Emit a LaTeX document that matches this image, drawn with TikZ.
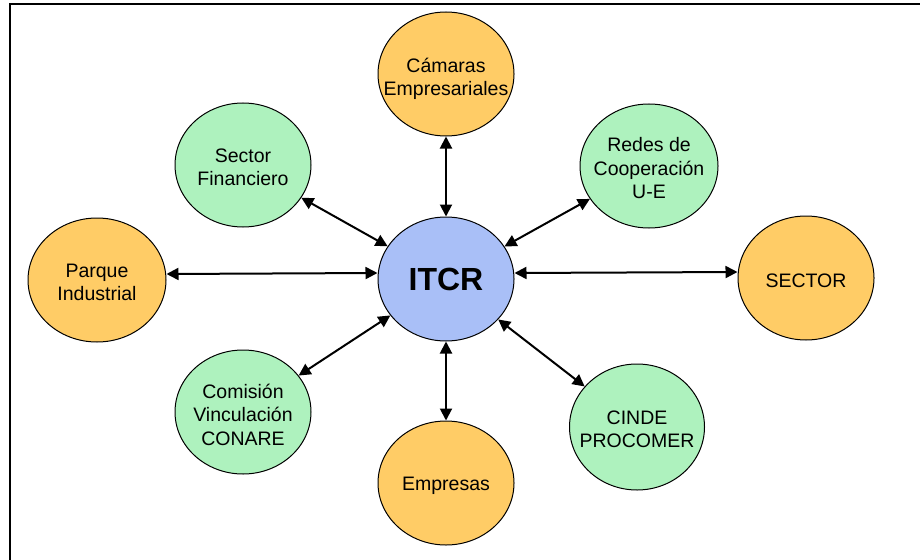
\documentclass[tikz,border=0pt]{standalone}
\usepackage{fontspec}
\setmainfont{Liberation Sans}
\usetikzlibrary{shapes.geometric,arrows.meta}
\definecolor{orangefill}{RGB}{255,204,102}
\definecolor{greenfill}{RGB}{174,242,190}
\definecolor{bluefill}{RGB}{169,191,247}
\tikzset{
  bubble/.style={ellipse, draw=black, line width=1pt, minimum width=136pt, minimum height=124pt,
    inner sep=0pt},
  bubbletext/.style={align=center, font=\fontsize{19.5}{23.5}\selectfont, yshift=-2.5pt},
  orangebubble/.style={bubble, fill=orangefill},
  greenbubble/.style={bubble, fill=greenfill},
  link/.style={line width=2pt, {Triangle[length=12pt,width=12pt]}-{Triangle[length=12pt,width=12pt]}}
}
\begin{document}
\begin{tikzpicture}[x=1pt,y=-1pt]
\useasboundingbox (0,0) rectangle (920,559);
\fill[white] (0,0) rectangle (920,559);
\begin{scope}
\clip (0,0) rectangle (920,559);
\draw[line width=2pt] (10,580) -- (10,4) -- (940,4);
\end{scope}
\node[orangebubble] (cam) at (446,74) {};
\node[bubbletext, yshift=-2.5pt] (camt) at (cam.center) {Cámaras\\Empresariales};
\node[greenbubble] (sf) at (243,165) {};
\node[bubbletext] (sft) at (sf.center) {Sector\\Financiero};
\node[greenbubble, minimum width=138pt] (redes) at (649,166) {};
\node[bubbletext] (redest) at (redes.center) {Redes de\\Cooperación\\U-E};
\node[orangebubble, minimum width=138pt] (parque) at (97,280) {};
\node[bubbletext] (parquet) at (parque.center) {Parque\\Industrial};
\node[orangebubble] (sector) at (806,278) {};
\node[bubbletext] (sectort) at (sector.center) {SECTOR};
\node[bubble, fill=bluefill] (itcr) at (446,279) {};
\node[font=\bfseries\fontsize{32}{36}\selectfont] (itcrt) at (itcr.center) {ITCR};
\node[greenbubble] (com) at (243,412) {};
\node[bubbletext] (comt) at (com.center) {Comisión\\Vinculación\\CONARE};
\node[greenbubble, minimum width=135pt, minimum height=126pt] (cinde) at (637,427) {};
\node[bubbletext] (cindet) at (cinde.center) {CINDE\\PROCOMER};
\node[orangebubble] (emp) at (446,483) {};
\node[bubbletext] (empt) at (emp.center) {Empresas};
\draw[link] (cam) -- (itcr);
\draw[link] (sf) -- (itcr);
\draw[link] (redes) -- (itcr);
\draw[link] ([yshift=6pt]parque.east) -- ([yshift=6pt]itcr.west);
\draw[link] ([yshift=6pt]sector.west) -- ([yshift=6pt]itcr.east);
\draw[link] (com) -- (itcr);
\draw[link] (cinde) -- (itcr);
\draw[link] (emp) -- (itcr);
\end{tikzpicture}
\end{document}
